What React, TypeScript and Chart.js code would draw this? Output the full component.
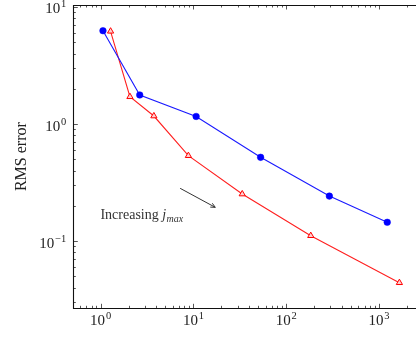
import React, { useEffect, useRef } from "react";
import { Chart, registerables } from "chart.js";

Chart.register(...registerables);

// Run time (s) and RMS error for the two refinement sequences
const circleTime = [1.06, 2.64, 10.7, 53, 292, 1228];
const circleError = [6.27, 1.77, 1.16, 0.519, 0.242, 0.1445];
const triangleTime = [1.28, 2.07, 3.75, 8.83, 33.6, 184, 1660];
const triangleError = [6.2, 1.71, 1.17, 0.536, 0.252, 0.111, 0.044];

// Axis limits
const xRange = [0.5077, 3293];
const yRange = [0.0266, 10.4];

// Annotation anchors in data coordinates
const noteAt = { x: 0.995, y: 0.153 };
const arrowFrom = { x: 7.2, y: 0.282 };
const arrowTo = { x: 17.2, y: 0.194 };

const SERIF = "'Liberation Serif', 'Times New Roman', serif";

function decadeTicks(min: number, max: number) {
  const out: { value: number; major: boolean }[] = [];
  for (let e = Math.floor(Math.log10(min)); e <= Math.ceil(Math.log10(max)); e++) {
    for (let m = 1; m <= 9; m++) {
      const v = m * Math.pow(10, e);
      if (v >= min && v <= max) out.push({ value: v, major: m === 1 });
    }
  }
  return out;
}

// exponent of an exact power of ten, or null
function exponentOf(value: number): number | null {
  const e = Math.round(Math.log10(value));
  return Math.abs(Math.pow(10, e) - value) / value > 1e-6 ? null : e;
}

// draws "10" with a raised exponent; align: 'center' or 'right'
function drawPower(ctx: CanvasRenderingContext2D, e: number, x: number, baseline: number, align: "center" | "right") {
  const base = "10";
  const exp = e < 0 ? "\u2212" + String(-e) : String(e);
  ctx.font = `15px ${SERIF}`;
  const wb = ctx.measureText(base).width;
  ctx.font = `10.5px ${SERIF}`;
  const we = ctx.measureText(exp).width;
  const total = wb + 0.8 + we;
  const left = align === "center" ? x - total / 2 : x - total;
  ctx.textAlign = "left";
  ctx.textBaseline = "alphabetic";
  ctx.font = `15px ${SERIF}`;
  ctx.fillText(base, left, baseline);
  ctx.font = `10.5px ${SERIF}`;
  ctx.fillText(exp, left + wb + 0.8, baseline - 6);
}

const frame = {
  id: "frame",
  afterDatasetsDraw(chart: any) {
    const { ctx, chartArea: a, scales } = chart;
    const xs = scales.x;
    const ys = scales.y;
    ctx.save();
    // inward tick marks
    ctx.strokeStyle = "#444";
    ctx.lineWidth = 0.9;
    ctx.beginPath();
    for (const t of xs.ticks) {
      const px = Math.round(xs.getPixelForValue(t.value)) + 0.5;
      const len = t.major ? 4.5 : 2.5;
      ctx.moveTo(px, a.bottom);
      ctx.lineTo(px, a.bottom - len);
      ctx.moveTo(px, a.top);
      ctx.lineTo(px, a.top + len);
    }
    for (const t of ys.ticks) {
      const py = Math.round(ys.getPixelForValue(t.value)) + 0.5;
      const len = t.major ? 4.5 : 2.5;
      ctx.moveTo(a.left, py);
      ctx.lineTo(a.left + len, py);
    }
    ctx.stroke();
    // axis lines
    ctx.strokeStyle = "#111";
    ctx.lineWidth = 1.1;
    ctx.beginPath();
    const L = Math.round(a.left) + 0.5;
    const B = Math.round(a.bottom) + 0.5;
    const T = Math.round(a.top) + 0.5;
    ctx.moveTo(a.right, T);
    ctx.lineTo(L, T);
    ctx.lineTo(L, B);
    ctx.lineTo(a.right, B);
    ctx.stroke();

    // tick labels at the decades
    ctx.fillStyle = "#222";
    for (const t of xs.ticks) {
      const e = exponentOf(t.value);
      if (e === null) continue;
      drawPower(ctx, e, xs.getPixelForValue(t.value), a.bottom + 17, "center");
    }
    for (const t of ys.ticks) {
      const e = exponentOf(t.value);
      if (e === null) continue;
      drawPower(ctx, e, a.left - 7, ys.getPixelForValue(t.value) + 6.5, "right");
    }

    // annotation: text and arrow
    const tx = xs.getPixelForValue(noteAt.x);
    const ty = ys.getPixelForValue(noteAt.y);
    ctx.fillStyle = "#333";
    ctx.textBaseline = "alphabetic";
    ctx.textAlign = "left";
    ctx.font = `14px ${SERIF}`;
    const word = "Increasing ";
    ctx.fillText(word, tx, ty);
    let cx = tx + ctx.measureText(word).width;
    ctx.font = `italic 14px ${SERIF}`;
    ctx.fillText("j", cx, ty);
    cx += ctx.measureText("j").width + 0.5;
    ctx.font = `italic 10px ${SERIF}`;
    ctx.fillText("max", cx, ty + 2.5);

    const x0 = xs.getPixelForValue(arrowFrom.x);
    const y0 = ys.getPixelForValue(arrowFrom.y);
    const x1 = xs.getPixelForValue(arrowTo.x);
    const y1 = ys.getPixelForValue(arrowTo.y);
    const ang = Math.atan2(y1 - y0, x1 - x0);
    ctx.strokeStyle = "#333";
    ctx.lineWidth = 1;
    ctx.beginPath();
    ctx.moveTo(x0, y0);
    ctx.lineTo(x1, y1);
    ctx.stroke();
    ctx.beginPath();
    const h = 5;
    ctx.moveTo(x1 - h * Math.cos(ang - 0.45), y1 - h * Math.sin(ang - 0.45));
    ctx.lineTo(x1, y1);
    ctx.lineTo(x1 - h * Math.cos(ang + 0.45), y1 - h * Math.sin(ang + 0.45));
    ctx.stroke();
    ctx.restore();
  },
};

export default function App() {
  const ref = useRef<HTMLCanvasElement>(null);

  useEffect(() => {
    if (!ref.current) return;
    const zeroPad = (s: any) => {
      s.paddingTop = 0;
      s.paddingBottom = 0;
      s.paddingLeft = 0;
      s.paddingRight = 0;
    };
    const chart = new Chart(ref.current, {
      type: "line",
      data: {
        datasets: [
          {
            label: "circles",
            data: circleTime.map((x, i) => ({ x, y: circleError[i] })),
            borderColor: "#1a1aff",
            backgroundColor: "#0000ff",
            borderWidth: 1.1,
            pointStyle: "circle",
            pointRadius: 3.3,
            pointBorderWidth: 0.5,
            pointBorderColor: "#0000ff",
            pointBackgroundColor: "#0000ff",
          },
          {
            label: "triangles",
            data: triangleTime.map((x, i) => ({ x, y: triangleError[i] })),
            borderColor: "#ff2020",
            backgroundColor: "#ffffff",
            borderWidth: 1.1,
            pointStyle: "triangle",
            pointRadius: 3.6,
            pointBorderWidth: 1,
            pointBorderColor: "#ff0000",
            pointBackgroundColor: "#ffd0d0",
          },
        ],
      },
      options: {
        animation: false,
        responsive: false,
        devicePixelRatio: 1,
        layout: { padding: { top: 5, left: 0, right: 0, bottom: 0 } },
        plugins: { legend: { display: false }, tooltip: { enabled: false } },
        scales: {
          x: {
            type: "logarithmic",
            min: xRange[0],
            max: xRange[1],
            grid: { display: false, drawTicks: false },
            border: { display: false },
            afterBuildTicks: (s: any) => {
              s.ticks = decadeTicks(xRange[0], xRange[1]);
            },
            afterFit: (s: any) => {
              s.height = 51.7;
              zeroPad(s);
            },
            ticks: { display: false, autoSkip: false, maxRotation: 0 },
            title: {
              display: true,
              text: "Run time (s)",
              color: "#222",
              font: { family: SERIF, size: 16 },
              padding: { top: 0, bottom: 3 },
            },
          },
          y: {
            type: "logarithmic",
            min: yRange[0],
            max: yRange[1],
            grid: { display: false, drawTicks: false },
            border: { display: false },
            afterBuildTicks: (s: any) => {
              s.ticks = decadeTicks(yRange[0], yRange[1]);
            },
            afterFit: (s: any) => {
              s.width = 73.3;
              zeroPad(s);
            },
            ticks: { display: false, autoSkip: false },
            title: {
              display: true,
              text: "RMS error",
              color: "#222",
              font: { family: SERIF, size: 16 },
              padding: { top: 12, bottom: 0 },
            },
          },
        },
      },
      plugins: [frame],
    });
    return () => chart.destroy();
  }, []);

  return (
    <div
      style={{
        position: "absolute",
        left: 0,
        top: 0,
        width: 416,
        height: 340,
        overflow: "hidden",
        background: "#fff",
      }}
    >
      <canvas ref={ref} width={432} height={360} style={{ width: 432, height: 360, display: "block" }} />
    </div>
  );
}
